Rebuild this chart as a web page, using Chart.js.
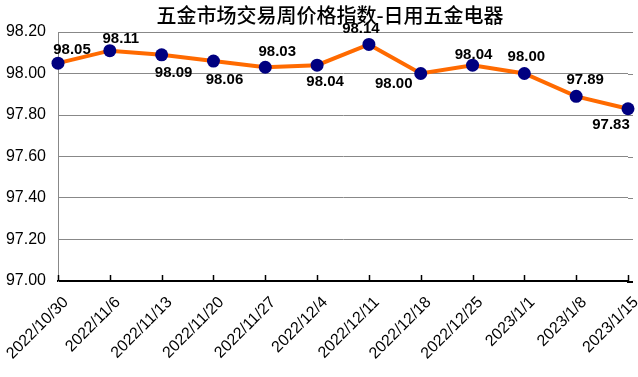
<!DOCTYPE html>
<html><head><meta charset="utf-8">
<script src="https://cdn.jsdelivr.net/npm/chart.js@4"></script>
<style>html,body{margin:0;padding:0;background:#fff}#wrap{width:638px;height:377px;position:relative}</style>
</head><body><div id="wrap"><canvas id="c" width="638" height="377"></canvas></div>
<script>
const chartTitle = '五金市场交易周价格指数-日用五金电器';
const categories = ['2022/10/30','2022/11/6','2022/11/13','2022/11/20','2022/11/27','2022/12/4','2022/12/11','2022/12/18','2022/12/25','2023/1/1','2023/1/8','2023/1/15'];
const values = [98.05, 98.11, 98.09, 98.06, 98.03, 98.04, 98.14, 98.00, 98.04, 98.00, 97.89, 97.83];
const yMin = 97.0, yMax = 98.2, yStep = 0.2;
// data-label placement offsets (style only)
const labelOffsets = [[14,-13],[11,-12],[12,18],[11,19],[12,-15],[8,17],[-8,-16],[-27,10],[1,-10],[2,-17],[9,-16],[-17,16]];

const decor = {
  id: 'decor',
  beforeDatasetsDraw(chart) {
    const ctx = chart.ctx, a = chart.chartArea, ys = chart.scales.y;
    ctx.save();
    ctx.strokeStyle = '#888'; ctx.lineWidth = 1;
    ys.ticks.forEach((t, i) => {
      if (i === 0) return;
      const y = Math.round(ys.getPixelForTick(i)) + 0.5;
      ctx.beginPath(); ctx.moveTo(a.right, y); ctx.lineTo(a.right + 5, y); ctx.stroke();
    });
    ctx.strokeStyle = '#000'; ctx.lineWidth = 2;
    ctx.beginPath(); ctx.moveTo(a.right - 1, a.bottom + 1); ctx.lineTo(a.right + 5, a.bottom + 1); ctx.stroke();
    ctx.restore();
  },
  afterDraw(chart) {
    const ctx = chart.ctx, a = chart.chartArea, xs = chart.scales.x;
    ctx.save();
    ctx.strokeStyle = '#000'; ctx.lineWidth = 1.5;
    for (let i = 0; i < categories.length; i++) {
      const x = Math.round(xs.getPixelForTick(i)) + 0.5;
      ctx.beginPath(); ctx.moveTo(x, a.bottom); ctx.lineTo(x, a.bottom - 6); ctx.stroke();
    }
    ctx.fillStyle = '#000';
    ctx.font = '500 20px "Noto Sans CJK SC"';
    ctx.textAlign = 'center'; ctx.textBaseline = 'middle';
    ctx.fillText(chartTitle, 330, 15);
    ctx.restore();
  },
  afterDatasetsDraw(chart) {
    const ctx = chart.ctx;
    const meta = chart.getDatasetMeta(0);
    ctx.save();
    ctx.fillStyle = '#000';
    ctx.font = 'bold 15px "Liberation Sans", Arial, sans-serif';
    ctx.textAlign = 'center'; ctx.textBaseline = 'middle';
    meta.data.forEach((pt, i) => {
      const o = labelOffsets[i];
      ctx.fillText(values[i].toFixed(2), pt.x + o[0], pt.y + o[1]);
    });
    ctx.restore();
  }
};

new Chart(document.getElementById('c'), {
  type: 'line',
  data: {
    labels: categories,
    datasets: [{
      data: values,
      borderColor: '#FF6A00',
      borderWidth: 4,
      backgroundColor: '#000080',
      pointBackgroundColor: '#000080',
      pointBorderColor: '#000080',
      pointBorderWidth: 0,
      pointRadius: 6.5,
      tension: 0,
      clip: false
    }]
  },
  options: {
    responsive: false,
    animation: false,
    devicePixelRatio: 1,
    layout: { padding: { top: 32, right: 10, left: 0, bottom: 0 } },
    plugins: { legend: { display: false }, title: { display: false }, tooltip: { enabled: false } },
    scales: {
      x: {
        offset: false,
        grid: { display: true, drawOnChartArea: false, drawTicks: false },
        border: { color: '#000', width: 2 },
        ticks: {
          autoSkip: false, minRotation: 45, maxRotation: 45, padding: 12, labelOffset: 8,
          color: '#000', font: { size: 16, family: '"Liberation Sans", Arial, sans-serif' }
        },
        afterFit(s) { s.height = 96; s.paddingLeft = 0; s.paddingRight = 0; }
      },
      y: {
        min: yMin, max: yMax,
        grid: { color: '#888', lineWidth: 1, drawTicks: false },
        border: { color: '#888', width: 1 },
        ticks: {
          stepSize: yStep, padding: 12, color: '#000',
          font: { size: 16, family: '"Liberation Sans", Arial, sans-serif' },
          callback: v => Number(v).toFixed(2)
        },
        afterFit(s) { s.width = 58; }
      }
    }
  },
  plugins: [decor]
});
</script></body></html>
